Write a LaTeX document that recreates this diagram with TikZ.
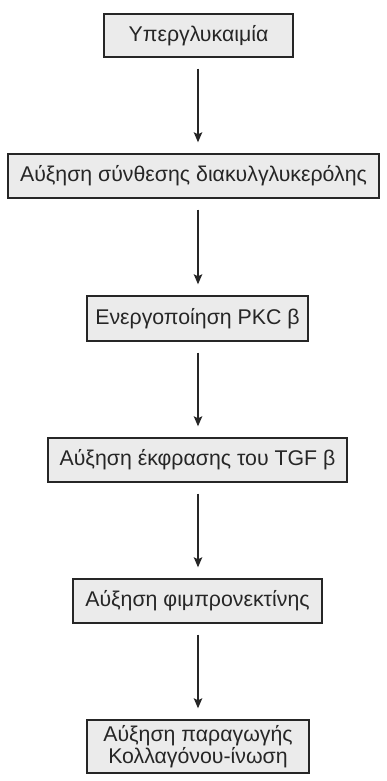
\documentclass[tikz,border=0pt]{standalone}
\usepackage{fontspec}
\setmainfont{Liberation Sans}
\usetikzlibrary{arrows.meta}
\definecolor{boxfill}{HTML}{EBEBEB}
\definecolor{ink}{HTML}{262626}
\tikzset{
  stepbox/.style={draw=ink, line width=1.4bp, fill=boxfill, rectangle,
    inner sep=0pt, text=ink, align=center,
    font=\fontsize{21.3bp}{22.5bp}\selectfont},
  flow/.style={draw=ink, line width=1.3bp,
    -{Stealth[length=10bp,width=8.5bp,inset=2bp]}}
}
\begin{document}
\begin{tikzpicture}[x=1bp,y=-1bp]
  \useasboundingbox (0,0) rectangle (386,781);
  \node[stepbox, minimum width=189bp, minimum height=43bp] (b1) at (198.5,35.5) {Υπεργλυκαιμία};
  \node[stepbox, minimum width=371bp, minimum height=44bp] (b2) at (193.5,176) {Αύξηση σύνθεσης διακυλγλυκερόλης};
  \node[stepbox, minimum width=221bp, minimum height=45bp] (b3) at (197.5,318.5) {Ενεργοποίηση PKC β};
  \node[stepbox, minimum width=299bp, minimum height=44bp] (b4) at (197.5,460) {Αύξηση έκφρασης του TGF β};
  \node[stepbox, minimum width=249bp, minimum height=44bp] (b5) at (197.5,601) {Αύξηση φιμπρονεκτίνης};
  \node[stepbox, minimum width=222bp, minimum height=53bp] (b6) at (198,746.5) {Αύξηση παραγωγής\\Κολλαγόνου-ίνωση};
  % vertical connectors, all on the same axis
  \coordinate (axis) at (198,0);
  \draw[flow] ([yshift=-11bp]b1.south -| axis) -- ([yshift=11bp]b2.north -| axis);
  \draw[flow] ([yshift=-11bp]b2.south -| axis) -- ([yshift=11bp]b3.north -| axis);
  \draw[flow] ([yshift=-11bp]b3.south -| axis) -- ([yshift=11bp]b4.north -| axis);
  \draw[flow] ([yshift=-11bp]b4.south -| axis) -- ([yshift=11bp]b5.north -| axis);
  \draw[flow] ([yshift=-11bp]b5.south -| axis) -- ([yshift=11bp]b6.north -| axis);
\end{tikzpicture}
\end{document}
